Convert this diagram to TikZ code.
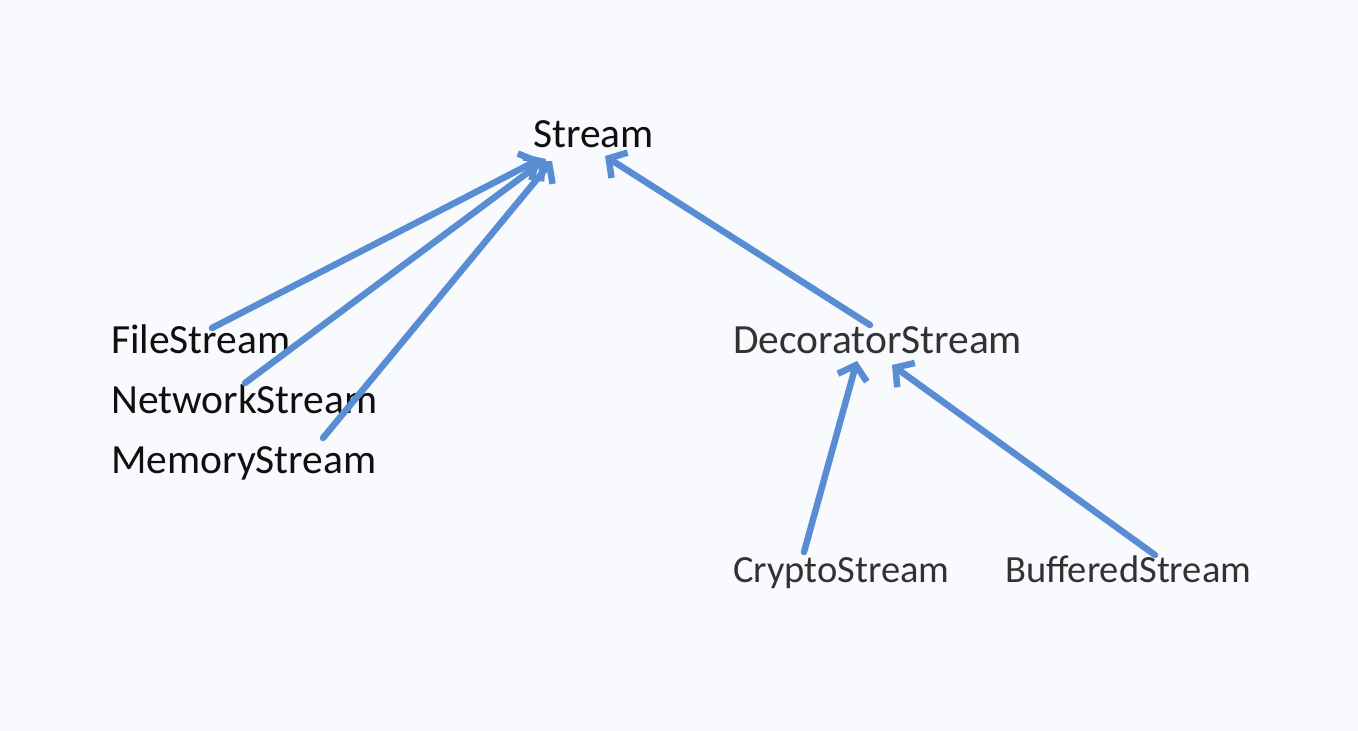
\documentclass[tikz,border=0pt]{standalone}
\usepackage{fontspec}
\setmainfont{Carlito}
\usetikzlibrary{arrows.meta,calc}
\definecolor{bgpaper}{RGB}{248,250,254}
\definecolor{linkblue}{RGB}{88,141,212}
\definecolor{darktext}{RGB}{15,15,15}
\definecolor{greytext}{RGB}{50,50,50}
\begin{document}
\begin{tikzpicture}[x=1pt,y=-1pt,
  label/.style={inner sep=0pt,anchor=base west,font=\fontsize{41.5}{49}\selectfont,text=darktext},
  sublabel/.style={label,text=greytext},
  smalllabel/.style={sublabel,font=\fontsize{38.5}{46}\selectfont},
  inherit/.style={draw=linkblue,line width=6.5pt,line cap=round,
    -{Straight Barb[length=13pt,width=30pt,line width=6.5pt]}}]
  \fill[bgpaper] (0,0) rectangle (1358,731);
  \useasboundingbox (0,0) rectangle (1358,731);

  % class names
  \node[label] (stream) at (533,147) {Stream};
  \node[label] (file) at (111,353) {FileStream};
  \node[label] (net) at (111,413) {NetworkStream};
  \node[label] (mem) at (111,473) {MemoryStream};
  \node[sublabel] (deco) at (733,353) {DecoratorStream};
  \node[smalllabel] (crypto) at (733,582) {CryptoStream};
  \node[smalllabel] (buff) at (1005,582) {BufferedStream};

  % inheritance links
  \draw[inherit] ($(file.base west)+(101,-25)$) -- ($(stream.base west)+(7,12)$);
  \draw[inherit] ($(net.base west)+(134,-30)$) -- ($(stream.base west)+(13,12)$);
  \draw[inherit] ($(mem.base west)+(212,-35)$) -- ($(stream.base west)+(19,14)$);
  \draw[inherit] ($(deco.base west)+(137,-28)$) -- ($(stream.base west)+(72,9)$);
  \draw[inherit] ($(crypto.base west)+(71,-30)$) -- ($(deco.base west)+(124,8)$);
  \draw[inherit] ($(buff.base west)+(150,-27)$) -- ($(deco.base west)+(159,12)$);
\end{tikzpicture}
\end{document}
